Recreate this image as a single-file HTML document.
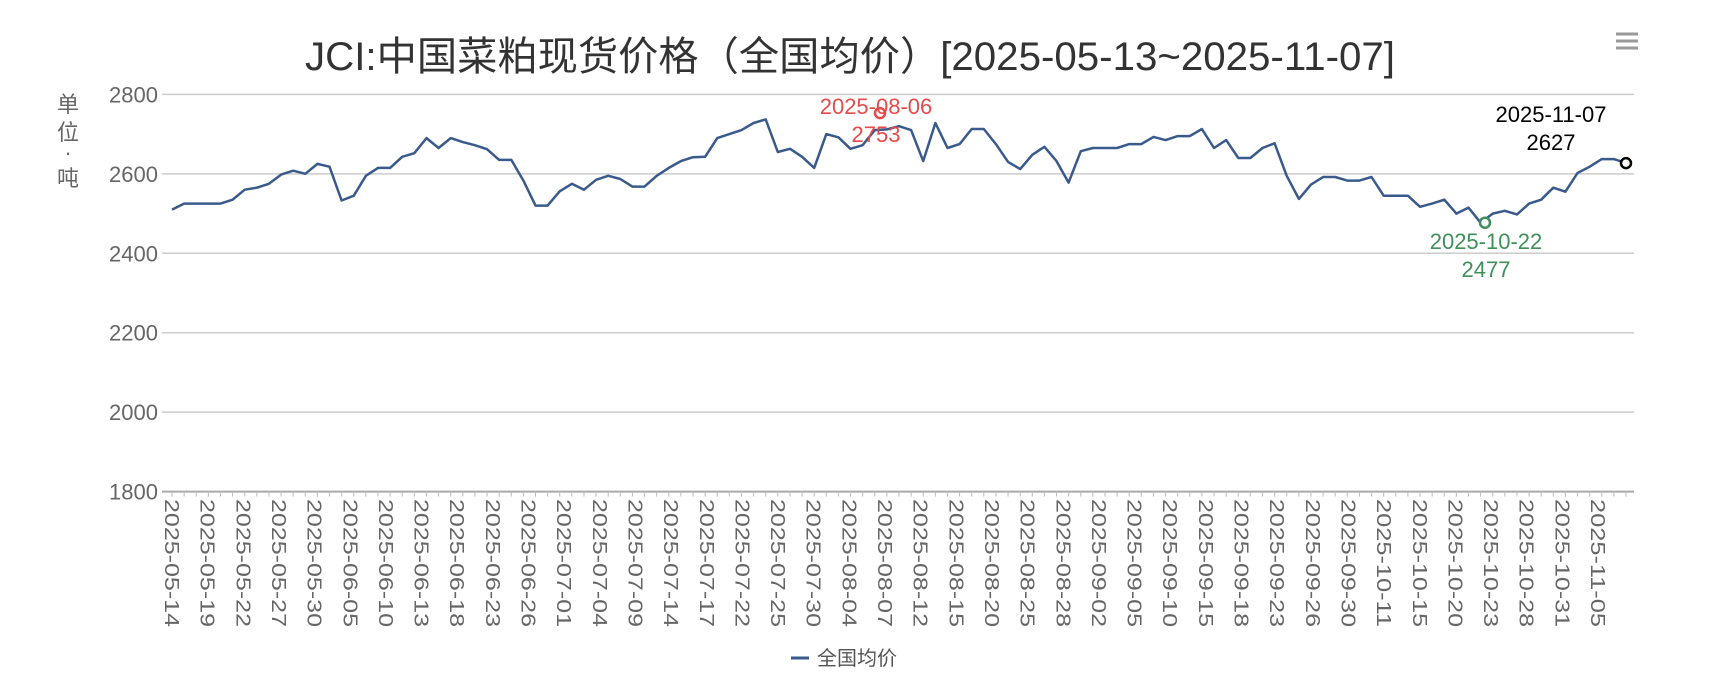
<!DOCTYPE html>
<html><head><meta charset="utf-8"><style>
html,body{margin:0;padding:0;background:#fff;}
svg{display:block;font-family:"Liberation Sans","Noto Sans CJK SC",sans-serif;}
</style></head><body>
<svg id="c" width="1712" height="692" xmlns="http://www.w3.org/2000/svg">
<text x="850" y="70" font-size="40" fill="#333" text-anchor="middle" textLength="1090" lengthAdjust="spacingAndGlyphs">JCI:中国菜粕现货价格（全国均价）[2025-05-13~2025-11-07]</text>
<g stroke="#999" stroke-width="3"><line x1="1616" y1="34" x2="1638" y2="34"/><line x1="1616" y1="41" x2="1638" y2="41"/><line x1="1616" y1="48" x2="1638" y2="48"/></g>
<g id="grid"></g>
<text font-size="22" fill="#666" text-anchor="middle"><tspan x="68" y="112">单</tspan><tspan x="68" y="140">位</tspan><tspan x="68" y="160">·</tspan><tspan x="68" y="186">吨</tspan></text>
<g id="series"></g>
<line x1="791" y1="658" x2="809" y2="658" stroke="#3a5a8c" stroke-width="3"/>
<text x="817" y="665" font-size="20" fill="#555">全国均价</text>
<text x="876" y="114" font-size="22" fill="#e84a4a" text-anchor="middle">2025-08-06</text>
<text x="876" y="142" font-size="22" fill="#e84a4a" text-anchor="middle">2753</text>
<text x="1486" y="249" font-size="22" fill="#3f8f5a" text-anchor="middle">2025-10-22</text>
<text x="1486" y="277" font-size="22" fill="#3f8f5a" text-anchor="middle">2477</text>
<text x="1551" y="122" font-size="22" fill="#000" text-anchor="middle">2025-11-07</text>
<text x="1551" y="150" font-size="22" fill="#000" text-anchor="middle">2627</text>
</svg>
<script>
var NS="http://www.w3.org/2000/svg";
function el(t,a,p,txt){var e=document.createElementNS(NS,t);for(var k in a)e.setAttribute(k,a[k]);if(txt!=null)e.textContent=txt;p.appendChild(e);return e;}
var L=162,R=1634;
function Y(v){return 94.4+(2800-v)/200*79.44;}
var g=document.getElementById('grid');
for(var v=1800;v<=2800;v+=200){var y=Y(v);el('line',{x1:L,y1:y,x2:R,y2:y,stroke:v==1800?'#aaa':'#ccc','stroke-width':v==1800?2:1.5},g);
el('text',{x:158,y:y+8,'font-size':22,fill:'#666','text-anchor':'end'},g,v);}
var d=[2510,2525,2525,2525,2525,2535,2560,2565,2575,2598,2608,2600,2625,2618,2533,2545,2595,2615,2615,2643,2652,2690,2665,2690,2680,2672,2662,2635,2635,2583,2520,2520,2556,2575,2560,2585,2595,2587,2568,2568,2595,2615,2632,2642,2643,2690,2700,2710,2728,2737,2655,2663,2643,2615,2700,2692,2663,2672,2710,2712,2720,2710,2632,2728,2665,2675,2713,2713,2675,2630,2612,2648,2668,2632,2578,2657,2665,2665,2665,2675,2675,2693,2685,2695,2695,2713,2665,2685,2640,2640,2665,2677,2595,2537,2573,2592,2592,2583,2583,2592,2545,2545,2545,2517,2525,2535,2500,2515,2477,2500,2507,2498,2525,2535,2565,2555,2602,2618,2637,2637,2627];
var n=d.length,x0=172,x1=1626,st=(x1-x0)/(n-1);
function X(i){return x0+i*st;}
var s=document.getElementById('series');
var base=Y(1800);
for(var i=0;i<n;i++){el('line',{x1:X(i),y1:base,x2:X(i),y2:base+5,stroke:'#bbb','stroke-width':1},s);}
var labs=["05-14","05-19","05-22","05-27","05-30","06-05","06-10","06-13","06-18","06-23","06-26","07-01","07-04","07-09","07-14","07-17","07-22","07-25","07-30","08-04","08-07","08-12","08-15","08-20","08-25","08-28","09-02","09-05","09-10","09-15","09-18","09-23","09-26","09-30","10-11","10-15","10-20","10-23","10-28","10-31","11-05"];
var lx0=172,lx1=1598;var ls=(lx1-lx0)/(labs.length-1);
for(var j=0;j<labs.length;j++){var x=lx0+j*ls;
el('text',{x:0,y:0,'font-size':20,fill:'#666',transform:'translate('+(x-7)+',499) rotate(90)',textLength:128,lengthAdjust:'spacingAndGlyphs'},s,'2025-'+labs[j]);}
var p='';for(var i=0;i<n;i++)p+=(i?'L':'M')+X(i).toFixed(1)+' '+Y(d[i]).toFixed(1);
el('path',{d:p,fill:'none',stroke:'#3a5a8c','stroke-width':2.5,'stroke-linejoin':'round'},s);
el('circle',{cx:880,cy:Y(2753),r:5,fill:'#fff',stroke:'#e84a4a','stroke-width':2.5},s);
el('circle',{cx:1485,cy:Y(2477),r:5,fill:'#fff',stroke:'#3f8f5a','stroke-width':2.5},s);
el('circle',{cx:1626,cy:Y(2627),r:5,fill:'#fff',stroke:'#000','stroke-width':2.5},s);
</script>
</body></html>
